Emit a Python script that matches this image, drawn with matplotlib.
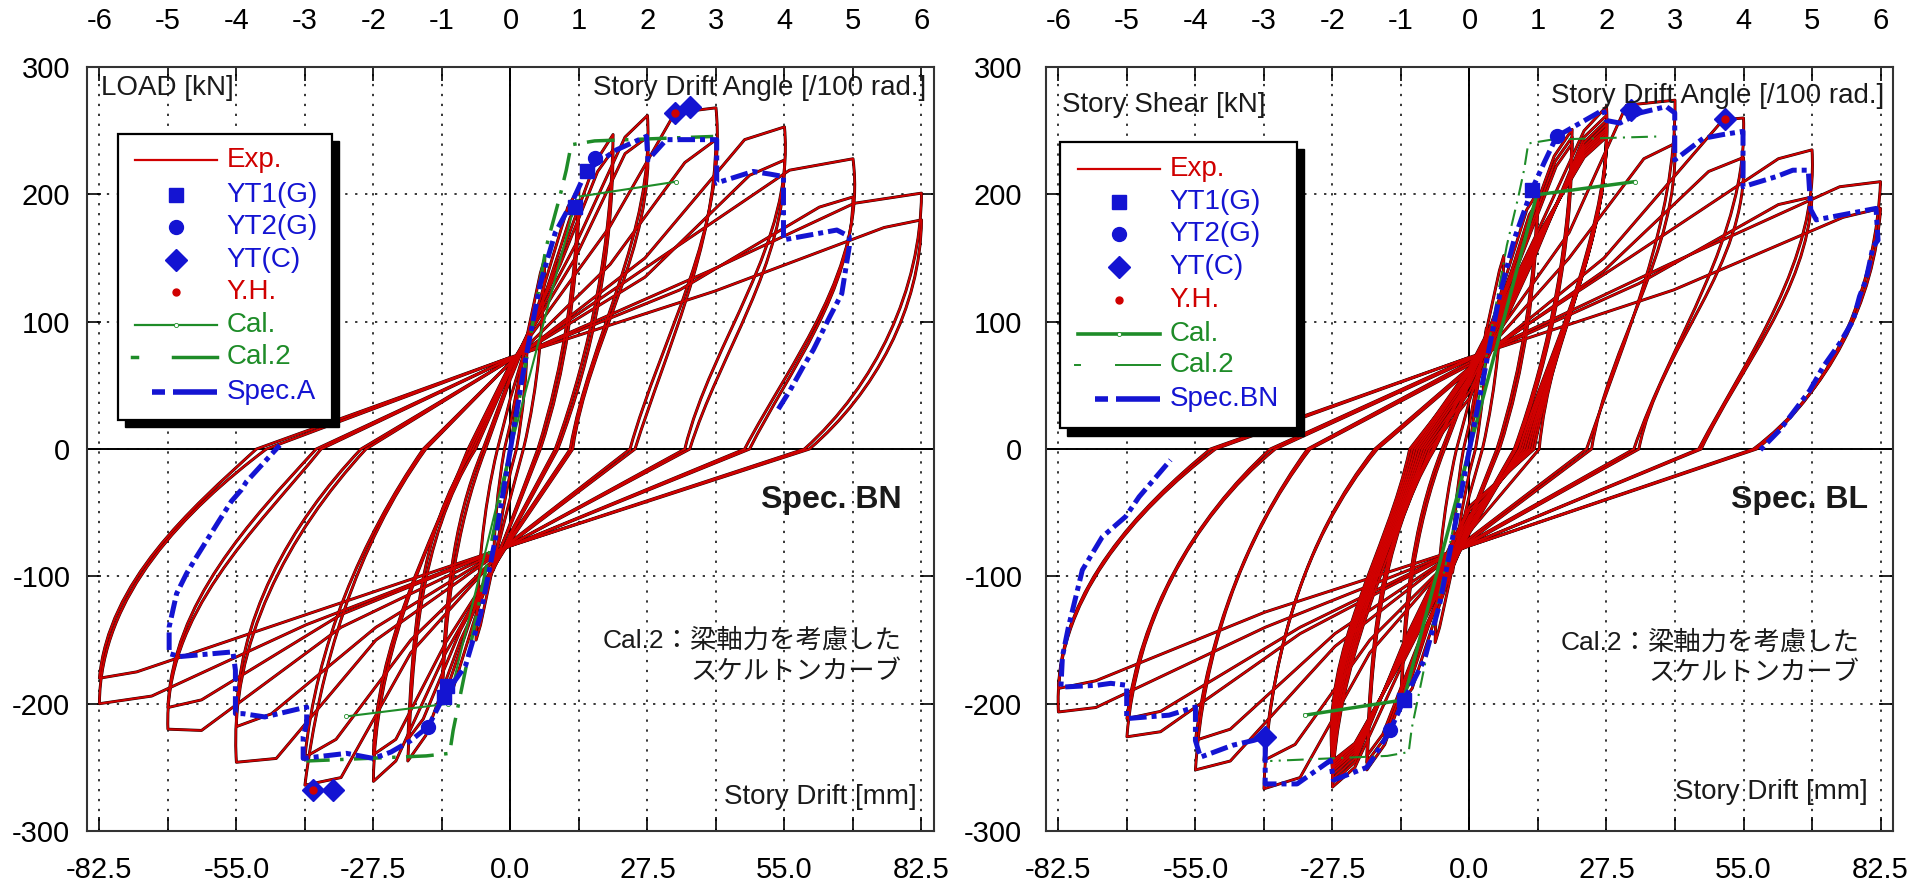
import matplotlib
matplotlib.use('Agg')
import numpy as np
import matplotlib.pyplot as plt
from matplotlib import font_manager
from matplotlib.patches import Rectangle, PathPatch
from matplotlib.path import Path

# ---------------- data (drift mm, load kN) ----------------
# x ticks every 1/100 rad = 13.75 mm
angle_ticks = [-6, -5, -4, -3, -2, -1, 0, 1, 2, 3, 4, 5, 6]
drift_per_angle = 13.75
load_ticks = [-300, -200, -100, 0, 100, 200, 300]

# Spec. BN (left) : one entry per cycle
bn_pos_pinch = [0, 20, 40, 55, 58, 62, 64, 66, 67, 68, 68, 70, 70, 71, 71, 72, 72]
bn_pos_mid = [(1.5, 45), (3.5, 92), (6.5, 125), (7, 122), (10, 150), (10, 145), (13, 160), (13, 150),
              (20, 175), (20, 145), (27, 150), (27, 135), (30, 150), (34, 125), (40, 140), (41, 124)]
bn_pos_pre = [(2.8, 78), (6.0, 138), (11.5, 190), (12, 182), (17, 225), (17.5, 218), (23, 245), (23, 232),
              (33, 264), (35, 225), (47, 243), (48, 215), (56, 219), (62, 190), (69, 193), (75, 174)]
bn_pos_peak = [(3.4, 90), (6.9, 150), (13.75, 205), (13.75, 192), (20.6, 247), (20.6, 235), (27.5, 262),
               (27.5, 245), (41.25, 268), (41.25, 243), (55, 253), (55, 227), (68.75, 228), (68.75, 198),
               (82.5, 201), (82.5, 180)]
bn_pos_sh1 = [(3.1, 60), (6.4, 105), (12.8, 145), (12.9, 135), (19.3, 170), (19.4, 160), (24.5, 165),
              (24.3, 152), (40.5, 200), (39.5, 180), (54, 195), (53.5, 175), (67.5, 160), (67, 150),
              (80.5, 140), (80.5, 125)]
bn_pos_sh2 = [(2.2, 25), (4.7, 42), (9.5, 60), (9.8, 55), (14.5, 70), (14.8, 65), (17.5, 80), (17.5, 75),
              (32.5, 95), (32.5, 85), (45, 100), (45.5, 90), (58, 75), (58, 70), (71, 55), (71.5, 50)]
bn_pos_zero = [1.2, 2.6, 5.5, 6, 9, 9.5, 12, 12.5, 24, 25, 35, 36, 47, 48, 59, 60]
bn_neg_pinch = [-18, -38, -58, -60, -66, -68, -70, -72, -73, -74, -75, -75, -76, -76, -76, -76]
bn_neg_mid = [(-1.5, -48), (-3.5, -92), (-6.5, -125), (-7, -122), (-10, -150), (-10, -142), (-13, -160),
              (-13, -152), (-20, -160), (-20, -150), (-27, -150), (-27, -140), (-34, -140), (-34, -130),
              (-41, -138), (-41, -130)]
bn_neg_pre = [(-2.8, -80), (-6.0, -138), (-11.5, -188), (-12, -180), (-17, -225), (-17.5, -212), (-23, -245),
              (-23, -228), (-34, -258), (-35, -228), (-47, -243), (-48, -208), (-62, -221), (-62, -197),
              (-72, -194), (-75, -175)]
bn_neg_peak = [(-3.4, -95), (-6.9, -150), (-13.75, -200), (-13.75, -190), (-20.6, -245), (-20.6, -228),
               (-27.5, -261), (-27.5, -240), (-41.25, -264), (-41.25, -242), (-55, -246), (-55, -218),
               (-68.75, -220), (-68.75, -203), (-82.5, -200), (-82.5, -180)]
bn_neg_sh1 = [(-3.1, -62), (-6.4, -105), (-12.8, -140), (-12.9, -132), (-19.3, -165), (-19.4, -155),
              (-23.5, -155), (-23.2, -145), (-36, -160), (-37.5, -165), (-52, -150), (-52, -140),
              (-64.5, -140), (-64, -130), (-79, -135), (-78.5, -125)]
bn_neg_sh2 = [(-2.2, -26), (-4.7, -42), (-9.5, -58), (-9.8, -52), (-14.5, -65), (-14.8, -60), (-13.5, -48),
              (-13.2, -44), (-26, -58), (-26.5, -58), (-41, -60), (-41.5, -56), (-52, -65), (-52.5, -60),
              (-68.5, -70), (-68, -65)]
bn_neg_zero = [-1.2, -2.6, -5, -5.5, -7, -7.5, -8, -8.5, -17, -17.5, -29, -30, -38, -39, -49, -51]

# Spec. BL (right)
bl_pos_pinch = [0, 20, 38, 52, 55, 56, 57, 58, 40, 45, 50, 54, 57, 60, 62, 64,
                60, 62, 64, 66, 68, 70, 71, 72, 72]
bl_pos_mid = [(1.5, 45), (3.5, 95), (6.5, 125), (7, 122), (10, 155), (10, 150), (10, 147), (13, 165),
              (13, 150), (13, 152), (13, 154), (13, 156), (13, 158), (13, 160), (13, 162), (13, 163),
              (20, 170), (20, 150), (27, 150), (27, 140), (32, 150), (34, 130), (40, 145), (41, 125)]
bl_pos_pre = [(2.8, 80), (6, 140), (11.5, 188), (12, 184), (17, 230), (17.2, 226), (17.4, 222), (23, 250),
              (23, 245), (23, 241), (23, 238), (23, 236), (23, 234), (23, 232), (23, 230), (23, 229),
              (31.5, 270), (35, 228), (50.9, 258.6), (48, 218), (62, 228), (62, 192), (74.3, 206), (75, 182)]
bl_pos_peak = [(3.4, 95), (6.9, 152), (13.75, 202), (13.75, 195), (20.6, 251), (20.6, 245), (20.6, 240),
               (27.5, 269), (27.5, 262), (27.5, 258), (27.5, 255), (27.5, 252), (27.5, 250), (27.5, 248),
               (27.5, 246), (27.5, 245), (41.25, 274), (41.25, 240), (55, 260), (55, 229), (68.75, 235),
               (68.75, 198), (82.5, 210), (82.5, 189)]
bl_pos_sh1 = [(3.1, 62), (6.4, 108), (12.8, 145), (12.9, 138), (19.3, 172), (19.3, 168), (19.4, 164),
              (24.9, 175), (24.9, 170), (24.8, 168), (24.7, 166), (24.6, 164), (24.5, 163), (24.4, 162),
              (24.3, 161), (24.2, 160), (40.8, 235), (38.5, 165), (54.6, 225), (52, 160), (68.3, 195),
              (65.5, 140), (81, 160), (80.5, 140)]
bl_pos_sh2 = [(2.2, 26), (4.7, 44), (9.5, 60), (9.8, 56), (14.5, 70), (14.6, 68), (14.7, 66), (19.5, 100),
              (19, 90), (18.5, 85), (18, 80), (17.5, 75), (17, 72), (16.5, 68), (16, 65), (15.5, 62),
              (33, 105), (30.5, 80), (44, 100), (42, 80), (56, 70), (55, 60), (72, 65), (70.5, 55)]
bl_pos_zero = [1.2, 2.6, 5.5, 6, 9, 9.2, 9.4, 14, 13, 12.5, 12, 11.5, 11, 10.5, 10, 10,
               23.5, 24.5, 33, 34, 46, 46.5, 57.6, 57]
bl_neg_pinch = [-18, -36, -55, -58, -62, -62, -63, -65, -45, -48, -52, -55, -58, -61, -64, -66,
                -70, -72, -73, -74, -75, -75, -76, -76]
bl_neg_mid = [(-1.5, -48), (-3.5, -95), (-6.5, -128), (-7, -124), (-10, -155), (-10, -152), (-10, -150),
              (-13, -165), (-13, -150), (-13, -152), (-13, -154), (-13, -156), (-13, -158), (-13, -160),
              (-13, -161), (-13, -162), (-20, -160), (-20, -150), (-27, -155), (-27, -145), (-34, -145),
              (-34, -140), (-41, -140), (-41, -128)]
bl_neg_pre = [(-2.8, -82), (-6, -140), (-11.5, -188), (-12, -184), (-17, -232), (-17.2, -228), (-17.4, -224),
              (-23, -250), (-23, -246), (-23, -243), (-23, -240), (-23, -238), (-23, -236), (-23, -234),
              (-23, -232), (-23, -231), (-34, -258), (-35, -232), (-48, -245), (-48, -220), (-62, -222),
              (-62, -206), (-75, -203), (-75, -182)]
bl_neg_peak = [(-3.4, -97), (-6.9, -152), (-13.75, -200), (-13.75, -195), (-20.6, -252), (-20.6, -246),
               (-20.6, -241), (-27.5, -265.5), (-27.5, -262), (-27.5, -259), (-27.5, -256), (-27.5, -253),
               (-27.5, -251), (-27.5, -249), (-27.5, -247), (-27.5, -245), (-41.25, -266.8), (-41.25, -244.5),
               (-55, -252), (-55, -228.8), (-68.75, -226), (-68.75, -211.7), (-82.5, -206.5), (-82.5, -188)]
bl_neg_sh1 = [(-3.1, -62), (-6.4, -108), (-12.8, -142), (-12.9, -136), (-19.3, -170), (-19.3, -166),
              (-19.4, -163), (-23, -160), (-23.2, -158), (-23.4, -156), (-23.6, -154), (-23.8, -152),
              (-24, -151), (-24.2, -150), (-24.4, -149), (-24.6, -148), (-38, -163), (-37.5, -155),
              (-51, -155), (-50.5, -145), (-64, -140), (-63.5, -132), (-79.5, -135), (-79.4, -132)]
bl_neg_sh2 = [(-2.2, -26), (-4.7, -44), (-9.5, -58), (-9.8, -55), (-14.5, -68), (-14.6, -66), (-14.7, -64),
              (-13, -50), (-14, -55), (-14.5, -58), (-15, -60), (-15.5, -62), (-16, -64), (-16.5, -66),
              (-17, -68), (-17.5, -70), (-30, -71), (-29.5, -66), (-43, -70), (-42.5, -65), (-54, -64),
              (-53.5, -60), (-68, -62), (-67.5, -58)]
bl_neg_zero = [-1.2, -2.6, -5, -5.5, -7, -7.2, -7.4, -8, -8.5, -9, -9.5, -10, -10.5, -11, -11.5, -12,
               -18.5, -19, -32, -32.5, -39, -40, -51, -52]

# envelope of the reference specimen (blue dash)
bn_ref_pos = [(0, 0), (3, 70), (6, 130), (9, 170), (12.5, 195), (15.3, 219), (21.3, 235), (27.3, 245.6),
              (27.6, 227), (31.3, 243), (41.4, 243), (41.4, 209), (48.7, 218), (52, 216), (54.8, 214),
              (54.8, 164.3), (65.5, 172), (68, 167), (68, 159), (67.8, 154), (66.5, 122), (64.1, 104),
              (60.8, 78), (58.8, 65), (56.1, 46), (53.7, 31)]
bn_ref_neg = [(0, 0), (-3, -70), (-6, -130), (-9, -170), (-13.5, -195), (-16.5, -218), (-20, -229),
              (-24, -238), (-27.5, -243), (-32.9, -239), (-41.6, -243), (-41.6, -226), (-40.9, -215),
              (-40.9, -202.6), (-49.3, -210.4), (-53.7, -207.8), (-55.2, -207.8), (-55.2, -173.7),
              (-55.7, -159.3), (-66.4, -163), (-68.5, -160.6), (-68.5, -139.7), (-67, -113.5), (-65, -97.7),
              (-63, -84.6), (-58.4, -55.8), (-56, -41), (-54, -32), (-53, -25.7), (-46.3, 3)]
bl_ref_pos = [(0, 0), (3, 60), (6, 120), (9, 165), (12.5, 203.6), (15, 225), (17.5, 245.5), (22.2, 256),
              (26.9, 266.5), (27.5, 258), (30.2, 256), (34.2, 264), (39.5, 269), (41.2, 264), (41.2, 227),
              (42.2, 230), (46.9, 244), (50.9, 247), (54.9, 249.5), (54.9, 206), (61.6, 214), (64.9, 219),
              (68, 219), (68.5, 188), (69.6, 180), (81.6, 189), (82, 164), (81, 159), (79.6, 133),
              (78.3, 120), (77, 101), (74.3, 83), (71, 64.7), (68.3, 46), (62.3, 15), (58.3, -1)]
bl_ref_neg = [(0, 0), (-3, -62), (-6, -122), (-9, -165), (-13.2, -197.3), (-15.9, -221), (-19.2, -242),
              (-20.6, -250), (-27.3, -260), (-27.9, -244.5), (-34.6, -263), (-41, -263), (-41, -226),
              (-43.3, -228.8), (-47.6, -232.7), (-54, -242), (-55, -229), (-55, -202.6), (-60.3, -209),
              (-68.8, -211.7), (-68.8, -185.5), (-72, -184), (-74.7, -185.5), (-82, -187), (-81.7, -163),
              (-80.5, -140), (-77.7, -95), (-73.7, -69), (-69, -53), (-66.3, -37.5), (-60, -8.6)]

# calculated skeleton curves
bn_cal_pos = [(0, 0), (13.3, 198), (33.3, 210)]
bn_cal_neg = [(0, 0), (-12.5, -200), (-33, -210)]
bn_cal2_pos = [(0, 0), (7.2, 159), (9.9, 198), (11.2, 219), (12.2, 239), (16.9, 242), (40.7, 245.5)]
bn_cal2_neg = [(0, 0), (-11.5, -221), (-12.2, -239), (-16.9, -241), (-41, -245)]
bl_cal_pos = [(0, 0), (13.5, 199.7), (33.2, 210)]
bl_cal_neg = [(0, 0), (-13.2, -197), (-33, -209)]
bl_cal2_pos = [(0, 0), (7.5, 160), (9.8, 198), (11, 220), (11.8, 240), (16.5, 243), (38, 245.5)]
bl_cal2_neg = [(0, 0), (-11.6, -219.6), (-12.2, -238), (-16.5, -241), (-40, -245)]

# yield points
bn_yt1 = [(12.9, 190), (15.3, 218), (-13.4, -195), (-12.8, -186)]
bn_yt2 = [(16.9, 228.5), (-16.5, -218)]
bn_ytc = [(33, 264), (36.1, 268.6), (-39.6, -268), (-35.6, -268)]
bn_yh = [(33, 264), (-39.6, -268)]
bl_yt1 = [(12.5, 203.6), (-13.2, -197.3)]
bl_yt2 = [(17.5, 245.5), (-15.9, -221)]
bl_ytc = [(51.2, 259), (32.5, 266.5), (-41, -226)]
bl_yh = [(51.2, 259)]

bn_labels = ['Exp.', 'YT1(G)', 'YT2(G)', 'YT(C)', 'Y.H.', 'Cal.', 'Cal.2', 'Spec.A']
bl_labels = ['Exp.', 'YT1(G)', 'YT2(G)', 'YT(C)', 'Y.H.', 'Cal.', 'Cal.2', 'Spec.BN']

RED = '#D00000'
DARK = '#1a0000'
BLUE = '#1414D2'
GREEN = '#1E8C28'
TXT = '#1a1a1a'

installed = {f.name for f in font_manager.fontManager.ttflist}
if 'Liberation Sans Narrow' in installed:
    TICK_FONT, TICK_SIZE = 'Liberation Sans Narrow', 25
else:
    TICK_FONT, TICK_SIZE = 'Liberation Sans', 21
plt.rcParams['font.family'] = ['Liberation Sans', 'Noto Sans CJK JP', 'DejaVu Sans']

# screen aspect of one mm versus one kN (used only for curve parameters)
X_SCALE = 3.9


def xy(pts):
    return [p[0] for p in pts], [p[1] for p in pts]


def cubic_through(p0, s1, s2, p3):
    """control points of a cubic Bezier from p0 to p3 passing through s1 and s2"""
    p0, s1, s2, p3 = (np.array(p, float) for p in (p0, s1, s2, p3))
    sc = np.array([X_SCALE, 1.0])
    d = [np.linalg.norm((b - a) * sc) for a, b in ((p0, s1), (s1, s2), (s2, p3))]
    t1, t2 = d[0] / sum(d), (d[0] + d[1]) / sum(d)
    m = np.array([[3 * (1 - t1) ** 2 * t1, 3 * (1 - t1) * t1 ** 2],
                  [3 * (1 - t2) ** 2 * t2, 3 * (1 - t2) * t2 ** 2]])
    r1 = s1 - (1 - t1) ** 3 * p0 - t1 ** 3 * p3
    r2 = s2 - (1 - t2) ** 3 * p0 - t2 ** 3 * p3
    c = np.linalg.solve(m, np.vstack([r1, r2]))
    return tuple(c[0]), tuple(c[1])


def build_loops(pp, pmid, ppre, ppk, psh1, psh2, pz, npn, nmid, npre, npk, nsh1, nsh2, nz):
    paths = []
    for i in range(len(ppk)):
        v = [(0, pp[i]), pmid[i], ppre[i], ppk[i]]
        c = [Path.MOVETO, Path.LINETO, Path.LINETO, Path.LINETO]
        c1, c2 = cubic_through(ppk[i], psh1[i], psh2[i], (pz[i], 0))
        v += [c1, c2, (pz[i], 0)]
        c += [Path.CURVE4] * 3
        v += [(0, npn[i]), nmid[i], npre[i], npk[i]]
        c += [Path.LINETO] * 4
        c1, c2 = cubic_through(npk[i], nsh1[i], nsh2[i], (nz[i], 0))
        v += [c1, c2, (nz[i], 0)]
        c += [Path.CURVE4] * 3
        v += [(0, pp[i + 1])]
        c += [Path.LINETO]
        paths.append(Path(v, c))
    return paths


def setup(ax, ypad):
    ax.set_xlim(-85, 85)
    ax.set_ylim(-300, 300)
    xt = [a * drift_per_angle for a in angle_ticks]
    ax.set_xticks(xt)
    ax.set_xticklabels([f'{v:.1f}' if a % 2 == 0 else '' for a, v in zip(angle_ticks, xt)])
    ax.set_yticks(load_ticks)
    ax.set_yticklabels([str(v) for v in load_ticks])
    ax.tick_params(direction='in', length=10, width=1.2, top=True, right=True,
                   labelsize=TICK_SIZE, colors='black')
    ax.tick_params(axis='x', pad=18)
    ax.tick_params(axis='y', pad=ypad)
    for lab in ax.get_xticklabels() + ax.get_yticklabels():
        lab.set_fontfamily(TICK_FONT)
    sec = ax.secondary_xaxis('top', functions=(lambda d: d / drift_per_angle, lambda a: a * drift_per_angle))
    sec.set_xticks(angle_ticks)
    sec.set_xticklabels([str(a) for a in angle_ticks])
    sec.tick_params(length=0, pad=23, labelsize=TICK_SIZE)
    for lab in sec.get_xticklabels():
        lab.set_fontfamily(TICK_FONT)
    sec.spines['top'].set_visible(False)
    for s in ax.spines.values():
        s.set_linewidth(1.5)
        s.set_color('#333333')
    ax.grid(True, color='black', lw=1.1, linestyle=(0, (1.5, 5)))
    ax.axhline(0, color='black', lw=1.4, zorder=1.5)
    ax.axvline(0, color='black', lw=1.4, zorder=1.5)


def draw_panel(ax, loops, ref_pos, ref_neg, cal_pos, cal_neg, cal2_pos, cal2_neg,
               yt1, yt2, ytc, yh, cal_lw, cal2_lw):
    for p in loops:
        ax.add_patch(PathPatch(p, fill=False, edgecolor=DARK, lw=2.1, zorder=2, joinstyle='round'))
    for p in loops:
        ax.add_patch(PathPatch(p, fill=False, edgecolor=RED, lw=1.45, zorder=2.1, joinstyle='round'))
    for pts in (cal_pos, cal_neg):
        x, y = xy(pts)
        ax.plot(x, y, color=GREEN, lw=cal_lw, zorder=3, marker='o', ms=3, mfc='white', mec=GREEN, mew=0.6)
    for pts in (cal2_pos, cal2_neg):
        x, y = xy(pts)
        ax.plot(x, y, color=GREEN, lw=cal2_lw, zorder=3, linestyle=(0, (1, 3, 8, 3)))
    for pts in (ref_pos, ref_neg):
        x, y = xy(pts)
        ax.plot(x, y, color=BLUE, lw=3.6, zorder=4, linestyle=(0, (3.5, 1, 1, 1)))
    x, y = xy(yt1)
    ax.plot(x, y, ls='none', marker='s', ms=10, color=BLUE, zorder=5)
    x, y = xy(yt2)
    ax.plot(x, y, ls='none', marker='o', ms=10, color=BLUE, zorder=5)
    x, y = xy(ytc)
    ax.plot(x, y, ls='none', marker='D', ms=11, color=BLUE, zorder=5)
    x, y = xy(yh)
    ax.plot(x, y, ls='none', marker='o', ms=5, color=RED, zorder=6)


def draw_legend(ax, box, rows, hx0, hx1, tx, labels, cal_lw, cal2_lw):
    x0, y0, x1, y1 = box
    tr = ax.transAxes
    ax.add_patch(Rectangle((x0 + 0.0085, y0 - 0.0095), x1 - x0, y1 - y0, transform=tr,
                           facecolor='black', edgecolor='black', zorder=20))
    ax.add_patch(Rectangle((x0, y0), x1 - x0, y1 - y0, transform=tr, facecolor='white',
                           edgecolor='black', lw=1.6, zorder=21))
    hm = (hx0 + hx1) / 2
    kw = dict(transform=tr, zorder=22, clip_on=False)
    ax.plot([hx0, hx1], [rows[0]] * 2, color=RED, lw=1.6, **kw)
    ax.plot([hm], [rows[1]], marker='s', ms=10, color=BLUE, **kw)
    ax.plot([hm], [rows[2]], marker='o', ms=10, color=BLUE, **kw)
    ax.plot([hm], [rows[3]], marker='D', ms=11, color=BLUE, **kw)
    ax.plot([hm], [rows[4]], marker='o', ms=5, color=RED, **kw)
    ax.plot([hx0, hx1], [rows[5]] * 2, color=GREEN, lw=cal_lw, **kw)
    ax.plot([hm], [rows[5]], marker='o', ms=3, mfc='white', mec=GREEN, mew=0.6, **kw)
    ax.plot([hx0 - 0.004, hx0 + 0.002], [rows[6]] * 2, color=GREEN, lw=cal2_lw, **kw)
    ax.plot([hx0 + 0.045, hx1], [rows[6]] * 2, color=GREEN, lw=cal2_lw, **kw)
    ax.plot([hx0 + 0.02, hx0 + 0.035], [rows[7]] * 2, color=BLUE, lw=4, solid_capstyle='butt', **kw)
    ax.plot([hx0 + 0.045, hx1], [rows[7]] * 2, color=BLUE, lw=4, solid_capstyle='butt', **kw)
    colors = [RED, BLUE, BLUE, BLUE, RED, GREEN, GREEN, BLUE]
    for r, lab, c in zip(rows, labels, colors):
        ax.text(tx, r, lab, color=c, fontsize=20, va='center', ha='left', transform=tr, zorder=23)


bn_loops = build_loops(bn_pos_pinch, bn_pos_mid, bn_pos_pre, bn_pos_peak, bn_pos_sh1, bn_pos_sh2,
                       bn_pos_zero, bn_neg_pinch, bn_neg_mid, bn_neg_pre, bn_neg_peak, bn_neg_sh1,
                       bn_neg_sh2, bn_neg_zero)
bl_loops = build_loops(bl_pos_pinch, bl_pos_mid, bl_pos_pre, bl_pos_peak, bl_pos_sh1, bl_pos_sh2,
                       bl_pos_zero, bl_neg_pinch, bl_neg_mid, bl_neg_pre, bl_neg_peak, bl_neg_sh1,
                       bl_neg_sh2, bl_neg_zero)

fig = plt.figure(figsize=(19.15, 8.93), dpi=100)
ax1 = fig.add_axes([0.0454, 0.0694, 0.4423, 0.8555])
ax2 = fig.add_axes([0.5462, 0.0694, 0.4423, 0.8555])

setup(ax1, 12)
setup(ax2, 17)

draw_panel(ax1, bn_loops, bn_ref_pos, bn_ref_neg, bn_cal_pos, bn_cal_neg, bn_cal2_pos, bn_cal2_neg,
           bn_yt1, bn_yt2, bn_ytc, bn_yh, 1.5, 2.5)
draw_panel(ax2, bl_loops, bl_ref_pos, bl_ref_neg, bl_cal_pos, bl_cal_neg, bl_cal2_pos, bl_cal2_neg,
           bl_yt1, bl_yt2, bl_ytc, bl_yh, 2.5, 1.5)

draw_legend(ax1, (0.037, 0.538, 0.289, 0.913),
            [0.878, 0.833, 0.790, 0.748, 0.705, 0.663, 0.620, 0.575],
            0.057, 0.154, 0.165, bn_labels, 1.6, 2.5)
draw_legend(ax2, (0.0165, 0.527, 0.296, 0.902),
            [0.867, 0.823, 0.782, 0.738, 0.695, 0.651, 0.610, 0.566],
            0.038, 0.135, 0.146, bl_labels, 2.6, 1.4)

jp_font = ['Liberation Sans', 'Noto Sans CJK JP']

ax1.text(-82.1, 283.6, 'LOAD [kN]', fontsize=20, color=TXT, va='center', ha='left', zorder=8)
ax1.text(83.5, 283.6, 'Story Drift Angle [/100 rad.]', fontsize=20, color=TXT, va='center', ha='right', zorder=8)
ax1.text(78.5, -40, 'Spec. BN', fontsize=23, fontweight='bold', color=TXT, va='center', ha='right', zorder=8)
ax1.text(78.5, -150, 'Cal.2：梁軸力を考慮した', fontsize=19, family=jp_font, color=TXT, va='center', ha='right', zorder=8)
ax1.text(78.5, -175, 'スケルトンカーブ', fontsize=19, family=jp_font, color=TXT, va='center', ha='right', zorder=8)
ax1.text(81.5, -273, 'Story Drift [mm]', fontsize=20, color=TXT, va='center', ha='right', zorder=8)

ax2.text(-81.7, 270.4, 'Story Shear [kN]', fontsize=20, color=TXT, va='center', ha='left', zorder=8)
ax2.text(83.3, 277, 'Story Drift Angle [/100 rad.]', fontsize=20, color=TXT, va='center', ha='right', zorder=8)
ax2.text(80, -40, 'Spec. BL', fontsize=23, fontweight='bold', color=TXT, va='center', ha='right', zorder=8)
ax2.text(78.3, -151.5, 'Cal.2：梁軸力を考慮した', fontsize=19, family=jp_font, color=TXT, va='center', ha='right', zorder=8)
ax2.text(78.3, -176, 'スケルトンカーブ', fontsize=19, family=jp_font, color=TXT, va='center', ha='right', zorder=8)
ax2.text(80, -269, 'Story Drift [mm]', fontsize=20, color=TXT, va='center', ha='right', zorder=8)

fig.savefig('out.png', dpi=100)
